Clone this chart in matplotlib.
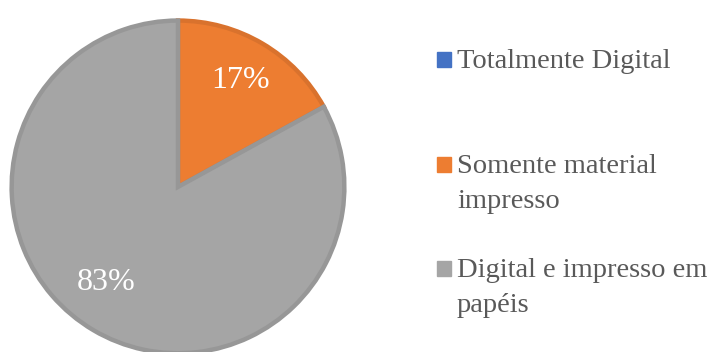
import numpy as np
import matplotlib.pyplot as plt
from matplotlib.patches import Rectangle

categories = ["Totalmente Digital", "Somente material\nimpresso", "Digital e impresso em\npapéis"]
shares = [0, 17, 83]
fill_colors = ["#4472C4", "#ED7D31", "#A5A5A5"]
edge_colors = ["#4472C4", "#D9722D", "#979797"]

plt.rcParams['font.family'] = ['Liberation Serif', 'DejaVu Serif']

fig = plt.figure(figsize=(7.12, 3.52), dpi=100)
ax = fig.add_axes([0.014, -0.0085, 0.472, 0.955])

wedges, texts, autotexts = ax.pie(
    shares, colors=fill_colors, startangle=90, counterclock=False,
    autopct=lambda p: f"{p:.0f}%" if p > 0 else "", pctdistance=0.74,
    textprops=dict(color="white", fontsize=23),
    wedgeprops=dict(linewidth=3.2),
)
for w, v, ec in zip(wedges, shares, edge_colors):
    if v == 0:
        w.set_visible(False)
    else:
        w.set_edgecolor(ec)

# the big slice's label sits a bit further round, towards the left
ang = np.deg2rad(233)
autotexts[2].set_position((0.72 * np.cos(ang), 0.72 * np.sin(ang)))

ax.set_xlim(-1.01, 1.01)
ax.set_ylim(-1.01, 1.01)
ax.set_aspect('equal')

# legend drawn by hand: square marker + label
W, H = fig.get_size_inches() * fig.dpi
baselines = [68, 173, 277]
for label, color, base in zip(categories, fill_colors, baselines):
    fig.patches.append(Rectangle((437 / W, 1 - (base - 1) / H), 14 / W, 15 / H,
                                 transform=fig.transFigure, color=color))
    lines = label.split("\n")
    for i, line in enumerate(lines):
        fig.text(457 / W, 1 - (base + 35 * i) / H, line, fontsize=20.5,
                 color="#595959", va='baseline', ha='left')

fig.savefig("out.png", dpi=100)
